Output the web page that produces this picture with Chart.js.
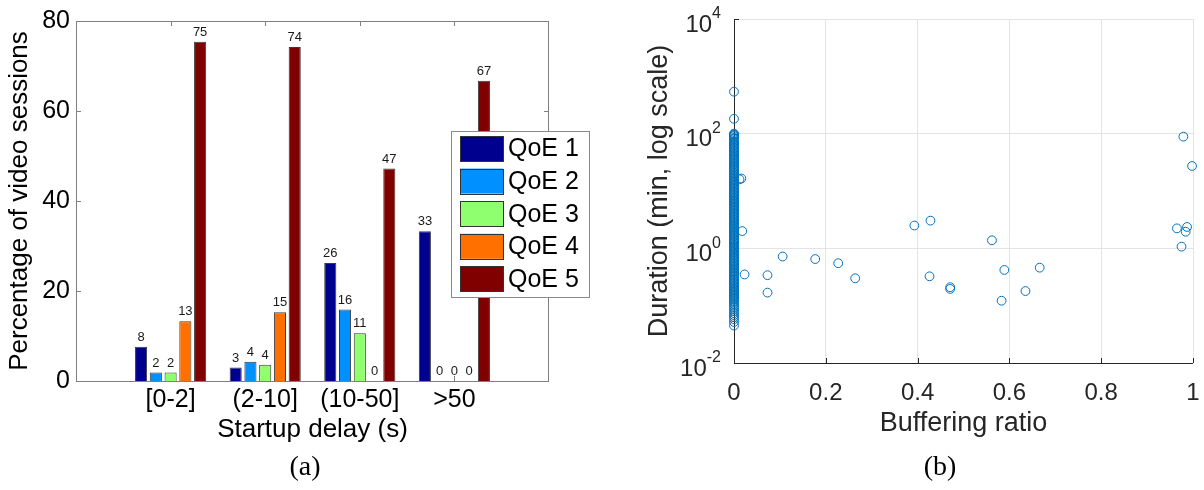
<!DOCTYPE html>
<html>
<head>
<meta charset="utf-8">
<script src="https://cdn.jsdelivr.net/npm/chart.js@4"></script>
<style>
  html, body { margin: 0; padding: 0; background: #fff; }
  #wrap { position: relative; width: 1204px; height: 490px; overflow: hidden; }
  #barBox { position: absolute; left: 0; top: 0; width: 600px; height: 490px; }
  #scatterBox { position: absolute; left: 600px; top: 0; width: 604px; height: 490px; }
  .caption { position: absolute; top: 450px; width: 80px; text-align: center;
             font-family: "Liberation Serif", "DejaVu Serif", serif; font-size: 28px; color: #000; }
</style>
</head>
<body>
<div id="wrap">
  <div id="barBox"><canvas id="delayChart"></canvas></div>
  <div id="scatterBox"><canvas id="bufferChart"></canvas></div>
  <div class="caption" style="left:265px">(a)</div>
  <div class="caption" style="left:900px">(b)</div>
</div>
<script>
// ---- (a) startup delay vs QoE ----
const delayGroups = ['[0-2]', '(2-10]', '(10-50]', '>50'];
const delayPos = [1, 2, 3, 4];
const qoeNames = ['QoE 1', 'QoE 2', 'QoE 3', 'QoE 4', 'QoE 5'];
const qoeColors = ['#00008f', '#0090ff', '#8fff70', '#ff7000', '#800000'];
const qoe1 = [7.6, 3.0, 26.2, 33.3];
const qoe2 = [1.9, 4.3, 15.9, 0];
const qoe3 = [1.9, 3.6, 10.6, 0];
const qoe4 = [13.3, 15.3, 0, 0];
const qoe5 = [75.4, 74.2, 47.2, 66.7];
const pctTicks = [0, 20, 40, 60, 80];

// ---- (b) buffering ratio vs duration ----
const ratioTicks = [0, 0.2, 0.4, 0.6, 0.8, 1];
const durationTicks = [0.01, 1, 100, 10000];
// sessions with zero buffering (the dense column at x = 0)
const zeroBufDuration = [0.045, 0.052, 0.058, 0.063, 0.068, 0.074, 0.08, 0.087, 0.094,
  0.1, 0.106, 0.113, 0.12, 0.128, 0.136, 0.145, 0.154, 0.164, 0.175, 0.186, 0.198,
  0.211, 0.225, 0.24, 0.255, 0.272, 0.29, 0.31, 0.33, 0.35, 0.373, 0.397, 0.423, 0.45,
  0.48, 0.51, 0.545, 0.58, 0.62, 0.66, 0.7, 0.745, 0.795, 0.845, 0.9, 0.96, 1.02, 1.09,
  1.16, 1.24, 1.32, 1.4, 1.5, 1.6, 1.7, 1.81, 1.93, 2.05, 2.19, 2.33, 2.48, 2.64, 2.82,
  3.0, 3.2, 3.4, 3.63, 3.86, 4.11, 4.38, 4.67, 4.97, 5.3, 5.64, 6.0, 6.4, 6.8, 7.25,
  7.7, 8.2, 8.75, 9.3, 9.9, 10.6, 11.3, 12, 12.8, 13.6, 14.5, 15.4, 16.4, 17.5, 18.6,
  19.8, 21.1, 22.5, 24, 25.5, 27.2, 29, 30.9, 32.9, 35, 37.3, 39.7, 42.3, 45, 48, 51,
  54.5, 58, 61.8, 65.8, 70, 74.6, 79.5, 84.6, 90, 96, 100, 182, 540];
const zeroBufDurationMore = [0.132, 0.15, 0.17, 0.192, 0.218, 0.247, 0.281, 0.32, 0.362,
  0.41, 0.465, 0.527, 0.6, 0.68, 0.77, 0.872, 0.99, 1.125, 1.28, 1.45, 1.65, 1.87, 2.12,
  2.4, 2.73, 3.1, 3.52, 3.98, 4.52, 5.13, 5.82, 6.6, 7.47, 8.47, 9.6, 10.95, 12.4, 14.05,
  15.9, 18.05, 20.45, 23.25, 26.35, 29.95, 33.95, 38.5, 43.6, 49.5, 56.2, 63.8, 72.3,
  82, 93, 98];
const bufRatio = [0.012, 0.016, 0.018, 0.023, 0.073, 0.073, 0.106, 0.177, 0.227, 0.264,
  0.393, 0.428, 0.426, 0.471, 0.471, 0.562, 0.589, 0.583, 0.635, 0.666,
  0.979, 0.998, 0.965, 0.987, 0.984, 0.975];
const bufDuration = [16, 16.5, 2.0, 0.35, 0.34, 0.169, 0.72, 0.65, 0.55, 0.30,
  2.5, 3.04, 0.325, 0.21, 0.196, 1.38, 0.42, 0.122, 0.18, 0.46,
  88.7, 27.3, 2.23, 2.36, 1.95, 1.07];

const SANS = '"Liberation Sans", Arial, Helvetica, sans-serif';

// frame + inward ticks (behind bars), value labels and legend for (a)
const barDecor = {
  id: 'barDecor',
  beforeDatasetsDraw(chart) {
    const { ctx, chartArea: a, scales: { x, y } } = chart;
    ctx.save();
    ctx.strokeStyle = '#7f7f7f';
    ctx.lineWidth = 1;
    ctx.strokeRect(a.left + 0.5, a.top + 0.5, a.right - a.left - 1, a.bottom - a.top);
    ctx.beginPath();
    x.ticks.forEach(t => {
      const px = Math.round(x.getPixelForValue(t.value)) + 0.5;
      ctx.moveTo(px, a.top); ctx.lineTo(px, a.top + 5);
      ctx.moveTo(px, a.bottom); ctx.lineTo(px, a.bottom - 5);
    });
    y.ticks.forEach(t => {
      const py = Math.round(y.getPixelForValue(t.value)) + 0.5;
      ctx.moveTo(a.left, py); ctx.lineTo(a.left + 5, py);
      ctx.moveTo(a.right, py); ctx.lineTo(a.right - 5, py);
    });
    ctx.stroke();
    ctx.restore();
  },
  afterDatasetsDraw(chart) {
    const { ctx } = chart;
    ctx.save();
    ctx.font = '13px ' + SANS;
    ctx.fillStyle = '#1a1a1a';
    ctx.textAlign = 'center';
    ctx.textBaseline = 'bottom';
    chart.data.datasets.forEach((ds, di) => {
      chart.getDatasetMeta(di).data.forEach((bar, i) => {
        ctx.fillText(String(Math.round(ds.data[i].y)), bar.x, bar.y - 3);
      });
    });
    ctx.restore();
  },
  afterDraw(chart) {
    const { ctx } = chart;
    const lx = 451, ly = 131, lw = 138, lh = 166;
    ctx.save();
    ctx.fillStyle = '#fff';
    ctx.fillRect(lx, ly, lw, lh);
    ctx.strokeStyle = '#8a8a8a';
    ctx.lineWidth = 1;
    ctx.strokeRect(lx + 0.5, ly + 0.5, lw, lh);
    ctx.font = '25px ' + SANS;
    ctx.textAlign = 'left';
    ctx.textBaseline = 'middle';
    chart.data.datasets.forEach((ds, i) => {
      const sy = 136 + i * 32.6;
      ctx.fillStyle = ds.backgroundColor;
      ctx.fillRect(460, sy, 43, 25);
      ctx.strokeStyle = '#333';
      ctx.strokeRect(460.5, Math.round(sy) + 0.5, 43, 25);
      ctx.fillStyle = '#000';
      ctx.fillText(ds.label, 508, sy + 13.5);
    });
    ctx.restore();
  }
};

const qoeSeries = [qoe1, qoe2, qoe3, qoe4, qoe5];

new Chart(document.getElementById('delayChart'), {
  type: 'bar',
  data: {
    datasets: qoeSeries.map((s, k) => ({
      label: qoeNames[k],
      data: delayPos.map((p, i) => ({ x: p, y: s[i] })),
      backgroundColor: qoeColors[k],
      borderColor: '#3a3a3a',
      borderWidth: 1,
      categoryPercentage: 0.78,
      barPercentage: 0.82
    }))
  },
  options: {
    responsive: true,
    maintainAspectRatio: false,
    animation: false,
    events: [],
    layout: { padding: { left: 0, top: 20, right: 51, bottom: 39 } },
    plugins: { legend: { display: false }, tooltip: { enabled: false } },
    scales: {
      x: {
        type: 'linear',
        min: 0,
        max: 5,
        offset: false,
        grid: { display: false, drawTicks: false, offset: false },
        border: { display: false },
        afterBuildTicks: s => { s.ticks = delayPos.map(v => ({ value: v })); },
        afterFit: s => { s.height = 70; },
        ticks: {
          padding: 4,
          color: '#000',
          font: { family: SANS, size: 25 },
          maxRotation: 0,
          callback: v => delayGroups[delayPos.indexOf(v)]
        },
        title: {
          display: true,
          text: 'Startup delay (s)',
          color: '#000',
          font: { family: SANS, size: 26 },
          padding: { top: 0, bottom: 6 }
        }
      },
      y: {
        min: 0,
        max: 80,
        grid: { display: false, drawTicks: false },
        border: { display: false },
        afterBuildTicks: s => { s.ticks = pctTicks.map(v => ({ value: v })); },
        afterFit: s => { s.width = 76; },
        ticks: { padding: 6, color: '#000', font: { family: SANS, size: 25 } },
        title: {
          display: true,
          text: 'Percentage of video sessions',
          color: '#000',
          font: { family: SANS, size: 26 },
          padding: { top: 4, bottom: 0 }
        }
      }
    }
  },
  plugins: [barDecor]
});

// axes lines, inward ticks and 10^n labels for (b)
const scatterDecor = {
  id: 'scatterDecor',
  beforeDatasetsDraw(chart) {
    const { ctx, chartArea: a, scales: { x, y } } = chart;
    ctx.save();
    ctx.strokeStyle = '#262626';
    ctx.lineWidth = 1;
    ctx.beginPath();
    ctx.moveTo(a.left + 0.5, a.top);
    ctx.lineTo(a.left + 0.5, a.bottom + 0.5);
    ctx.lineTo(a.right, a.bottom + 0.5);
    x.ticks.forEach(t => {
      const px = Math.round(x.getPixelForValue(t.value)) + 0.5;
      ctx.moveTo(px, a.bottom); ctx.lineTo(px, a.bottom - 5);
    });
    y.ticks.forEach(t => {
      const py = Math.round(y.getPixelForValue(t.value)) + 0.5;
      ctx.moveTo(a.left, py); ctx.lineTo(a.left + 5, py);
    });
    ctx.stroke();
    ctx.restore();
  },
  afterDraw(chart) {
    const { ctx, chartArea: a, scales: { y } } = chart;
    ctx.save();
    ctx.fillStyle = '#262626';
    ctx.textAlign = 'right';
    ctx.textBaseline = 'middle';
    const right = a.left - 13;
    y.ticks.forEach(t => {
      const py = y.getPixelForValue(t.value);
      const ex = String(Math.round(Math.log10(t.value)));
      ctx.font = '16px ' + SANS;
      const ew = ctx.measureText(ex).width;
      ctx.fillText(ex, right, py - 5);
      ctx.font = '24px ' + SANS;
      ctx.fillText('10', right - ew, py + 6);
    });
    ctx.restore();
  }
};

const scatterPoints = zeroBufDuration.concat(zeroBufDurationMore).map(d => ({ x: 0, y: d }))
  .concat(bufRatio.map((r, i) => ({ x: r, y: bufDuration[i] })));

new Chart(document.getElementById('bufferChart'), {
  type: 'scatter',
  data: {
    datasets: [{
      label: 'sessions',
      data: scatterPoints,
      pointStyle: 'circle',
      pointRadius: 4.4,
      pointBorderWidth: 1,
      pointBackgroundColor: 'rgba(0,0,0,0)',
      pointBorderColor: '#0072bd',
      clip: false
    }]
  },
  options: {
    responsive: true,
    maintainAspectRatio: false,
    animation: false,
    events: [],
    layout: { padding: { left: 0, top: 19, right: 11, bottom: 37 } },
    plugins: { legend: { display: false }, tooltip: { enabled: false } },
    scales: {
      x: {
        type: 'linear',
        min: 0,
        max: 1,
        // invisible outer tick length gives the label gap without widening the side padding
        grid: { color: '#e3e3e3', drawTicks: true, tickLength: 14, tickColor: 'rgba(0,0,0,0)' },
        border: { display: false },
        afterBuildTicks: s => { s.ticks = ratioTicks.map(v => ({ value: v })); },
        afterFit: s => { s.height = 90; },
        ticks: {
          padding: 2,
          color: '#262626',
          font: { family: SANS, size: 24 },
          maxRotation: 0,
          callback: v => String(v)
        },
        title: {
          display: true,
          text: 'Buffering ratio',
          color: '#262626',
          font: { family: SANS, size: 27 },
          padding: { top: 0, bottom: 13 }
        }
      },
      y: {
        type: 'logarithmic',
        min: 0.01,
        max: 10000,
        grid: { color: '#e3e3e3', drawTicks: false },
        border: { display: false },
        afterBuildTicks: s => { s.ticks = durationTicks.map(v => ({ value: v })); },
        afterFit: s => { s.width = 134; },
        ticks: { display: false },
        title: {
          display: true,
          text: 'Duration (min, log scale)',
          color: '#262626',
          font: { family: SANS, size: 27 },
          padding: { top: 43, bottom: 0 }
        }
      }
    }
  },
  plugins: [scatterDecor]
});
</script>
</body>
</html>
